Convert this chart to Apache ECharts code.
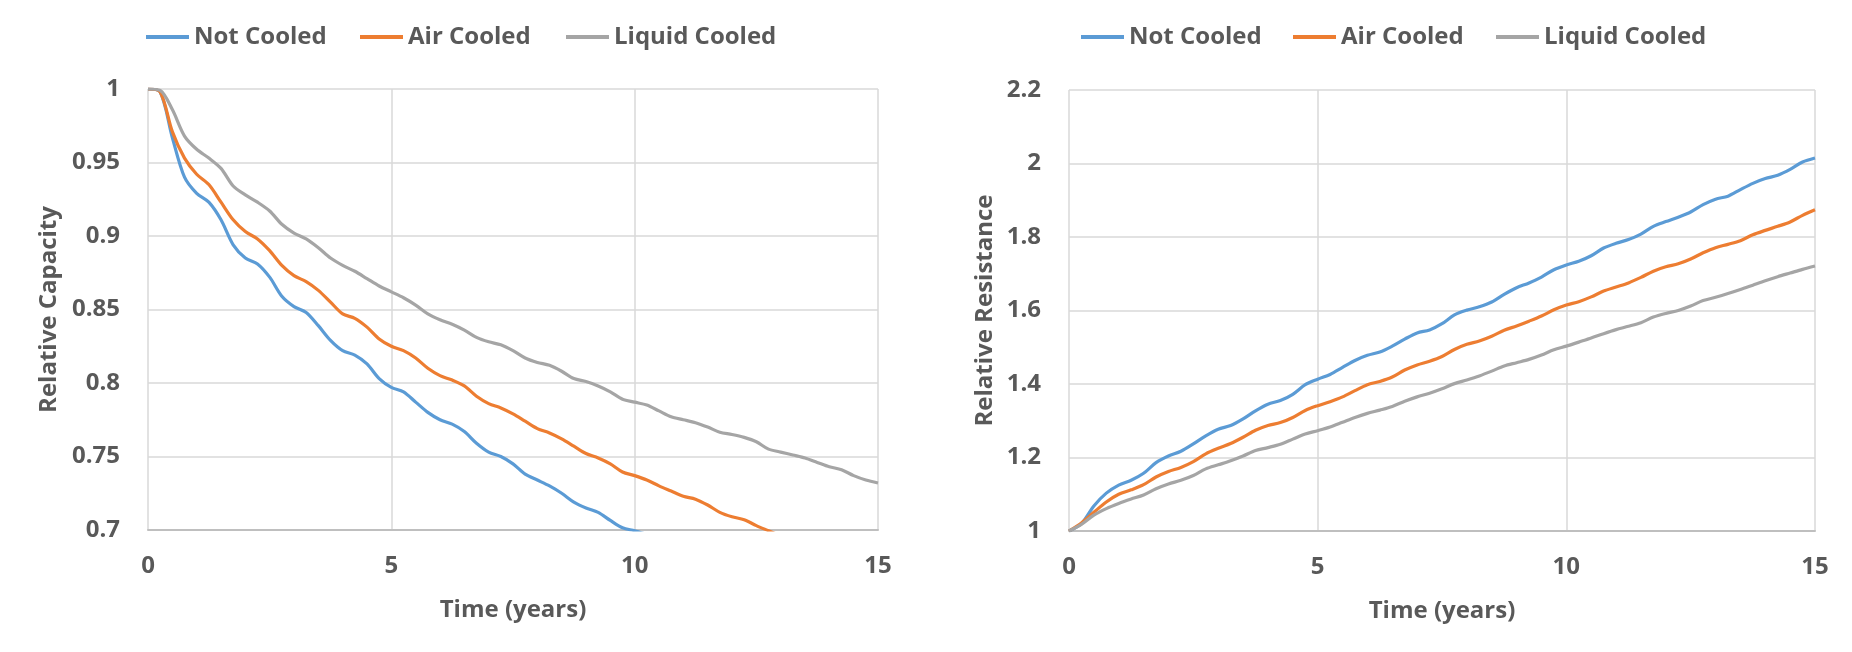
<!DOCTYPE html>
<html style="height:100%">
<head>
<meta charset="utf-8">
<script src="https://cdn.jsdelivr.net/npm/echarts@6/dist/echarts.min.js"></script>
<title>Capacity and resistance</title>
</head>
<body style="height:100%; margin:0; background:#fff">
<div id="container" style="width:1852px; height:652px"></div>
<script type="text/javascript">
// time in years (sample points)
var years = [0, 0.25, 0.5, 0.75, 1, 1.25, 1.5, 1.75, 2, 2.25, 2.5, 2.75, 3, 3.25, 3.5, 3.75,
  4, 4.25, 4.5, 4.75, 5, 5.25, 5.5, 5.75, 6, 6.25, 6.5, 6.75, 7, 7.25, 7.5, 7.75,
  8, 8.25, 8.5, 8.75, 9, 9.25, 9.5, 9.75, 10, 10.25, 10.5, 10.75, 11, 11.25, 11.5, 11.75,
  12, 12.25, 12.5, 12.75, 13, 13.25, 13.5, 13.75, 14, 14.25, 14.5, 14.75, 15];

var seriesNames = ['Not Cooled', 'Air Cooled', 'Liquid Cooled'];
var colors = ['#5B9BD5', '#ED7D31', '#A5A5A5'];

// relative capacity (left chart), clipped below 0.7
var capNot = [1.0, 0.998, 0.967, 0.940, 0.929, 0.923, 0.911, 0.894, 0.885, 0.881, 0.872, 0.859,
  0.852, 0.848, 0.839, 0.829, 0.822, 0.819, 0.813, 0.803, 0.797, 0.794, 0.787, 0.780,
  0.775, 0.772, 0.767, 0.759, 0.753, 0.750, 0.745, 0.738, 0.734, 0.730, 0.725, 0.719,
  0.715, 0.712, 0.7065, 0.7015, 0.6995, 0.697];
var capAir = [1.0, 0.998, 0.971, 0.953, 0.942, 0.935, 0.923, 0.911, 0.903, 0.898, 0.890, 0.880,
  0.873, 0.869, 0.863, 0.855, 0.847, 0.844, 0.838, 0.830, 0.825, 0.822, 0.817, 0.810,
  0.805, 0.802, 0.798, 0.791, 0.786, 0.783, 0.779, 0.774, 0.769, 0.766, 0.762, 0.757,
  0.752, 0.749, 0.745, 0.7395, 0.737, 0.734, 0.730, 0.7265, 0.723, 0.721, 0.717, 0.712,
  0.709, 0.707, 0.703, 0.6995, 0.696];
var capLiquid = [1.0, 0.999, 0.986, 0.968, 0.959, 0.953, 0.946, 0.934, 0.928, 0.923, 0.917, 0.908,
  0.902, 0.898, 0.892, 0.885, 0.880, 0.876, 0.871, 0.866, 0.862, 0.858, 0.853, 0.847,
  0.843, 0.840, 0.836, 0.831, 0.828, 0.826, 0.822, 0.817, 0.814, 0.812, 0.808, 0.803,
  0.801, 0.798, 0.794, 0.789, 0.787, 0.785, 0.781, 0.777, 0.775, 0.773, 0.770, 0.7665,
  0.765, 0.763, 0.760, 0.755, 0.753, 0.751, 0.749, 0.746, 0.743, 0.741, 0.737, 0.734, 0.732];

// relative resistance (right chart)
var resNot = [1.0, 1.02, 1.068, 1.103, 1.125, 1.138, 1.157, 1.186, 1.204, 1.217, 1.237, 1.259,
  1.277, 1.287, 1.305, 1.327, 1.345, 1.355, 1.372, 1.398, 1.413, 1.426, 1.445, 1.464,
  1.478, 1.487, 1.503, 1.522, 1.539, 1.547, 1.564, 1.588, 1.601, 1.610, 1.623, 1.644,
  1.662, 1.675, 1.691, 1.711, 1.724, 1.734, 1.749, 1.770, 1.783, 1.793, 1.808, 1.829,
  1.842, 1.854, 1.868, 1.888, 1.903, 1.911, 1.929, 1.946, 1.959, 1.968, 1.984, 2.004, 2.015];
var resAir = [1.0, 1.022, 1.051, 1.079, 1.100, 1.112, 1.126, 1.147, 1.162, 1.173, 1.189, 1.210,
  1.225, 1.238, 1.255, 1.274, 1.287, 1.295, 1.309, 1.328, 1.341, 1.352, 1.365, 1.382,
  1.398, 1.407, 1.419, 1.438, 1.452, 1.462, 1.475, 1.494, 1.508, 1.517, 1.530, 1.546,
  1.558, 1.571, 1.585, 1.602, 1.615, 1.624, 1.637, 1.653, 1.664, 1.675, 1.690, 1.707,
  1.719, 1.727, 1.740, 1.757, 1.771, 1.780, 1.790, 1.806, 1.818, 1.829, 1.841, 1.859, 1.874];
var resLiquid = [1.0, 1.018, 1.043, 1.061, 1.075, 1.087, 1.098, 1.115, 1.128, 1.138, 1.151, 1.169,
  1.180, 1.191, 1.204, 1.219, 1.227, 1.236, 1.250, 1.264, 1.273, 1.283, 1.296, 1.309,
  1.320, 1.329, 1.339, 1.353, 1.365, 1.375, 1.387, 1.401, 1.411, 1.422, 1.435, 1.449,
  1.458, 1.467, 1.479, 1.493, 1.503, 1.514, 1.525, 1.537, 1.548, 1.557, 1.567, 1.582,
  1.592, 1.600, 1.612, 1.627, 1.636, 1.646, 1.657, 1.669, 1.681, 1.692, 1.702, 1.712, 1.721];

var textColor = '#595959';
var fontFamily = '"Open Sans", sans-serif';

function pairs(vals) {
  var res = [];
  for (var i = 0; i < vals.length; i++) {
    res.push([years[i], vals[i]]);
  }
  return res;
}

function makeLegend(name, left) {
  return {
    data: [name],
    left: left,
    top: 25,
    padding: 0,
    icon: 'rect',
    itemWidth: 43,
    itemHeight: 4,
    textStyle: { color: textColor, fontSize: 24, fontWeight: 'bold', fontFamily: fontFamily }
  };
}

function xAxisFor(gridIndex) {
  return {
    type: 'value', gridIndex: gridIndex, min: 0, max: 15, interval: 5,
    name: 'Time (years)', nameLocation: 'middle', nameGap: 68,
    nameTextStyle: { color: textColor, fontSize: 24, fontWeight: 'bold', fontFamily: fontFamily },
    axisLine: { show: true, lineStyle: { color: '#BFBFBF', width: 2 } },
    axisTick: { show: false },
    axisLabel: { color: textColor, fontSize: 24, fontWeight: 'bold', fontFamily: fontFamily, margin: 24 },
    splitLine: { show: true, lineStyle: { color: '#D9D9D9', width: 1.5 } }
  };
}

function yAxisFor(gridIndex, name, min, max, interval, gap) {
  return {
    type: 'value', gridIndex: gridIndex, min: min, max: max, interval: interval,
    name: name, nameLocation: 'middle', nameGap: gap,
    nameTextStyle: { color: textColor, fontSize: 24, fontWeight: 'bold', fontFamily: fontFamily },
    axisLine: { show: false },
    axisTick: { show: false },
    axisLabel: { color: textColor, fontSize: 24, fontWeight: 'bold', fontFamily: fontFamily, margin: 28 },
    splitLine: { show: true, lineStyle: { color: '#D9D9D9', width: 1.5 } }
  };
}

function lineSeries(idx, data, axisIndex) {
  return {
    name: seriesNames[idx], type: 'line', xAxisIndex: axisIndex, yAxisIndex: axisIndex,
    data: pairs(data), symbol: 'none', smooth: 0.3, clip: true,
    color: colors[idx],
    lineStyle: { color: colors[idx], width: 3.2 }
  };
}

var myChart = echarts.init(document.getElementById('container'), null, { renderer: 'canvas' });

var option = {
  backgroundColor: '#ffffff',
  animation: false,
  color: colors,
  legend: [
    makeLegend('Not Cooled', 146), makeLegend('Air Cooled', 360), makeLegend('Liquid Cooled', 566),
    makeLegend('Not Cooled', 1081), makeLegend('Air Cooled', 1293), makeLegend('Liquid Cooled', 1496)
  ],
  grid: [
    { left: 148, top: 89, width: 730, height: 441 },
    { left: 1069, top: 90, width: 746, height: 441 }
  ],
  xAxis: [xAxisFor(0), xAxisFor(1)],
  yAxis: [
    yAxisFor(0, 'Relative Capacity', 0.7, 1, 0.05, 87),
    yAxisFor(1, 'Relative Resistance', 1, 2.2, 0.2, 72)
  ],
  series: [
    lineSeries(0, capNot, 0),
    lineSeries(1, capAir, 0),
    lineSeries(2, capLiquid, 0),
    lineSeries(0, resNot, 1),
    lineSeries(1, resAir, 1),
    lineSeries(2, resLiquid, 1)
  ]
};

myChart.setOption(option);
</script>
</body>
</html>
